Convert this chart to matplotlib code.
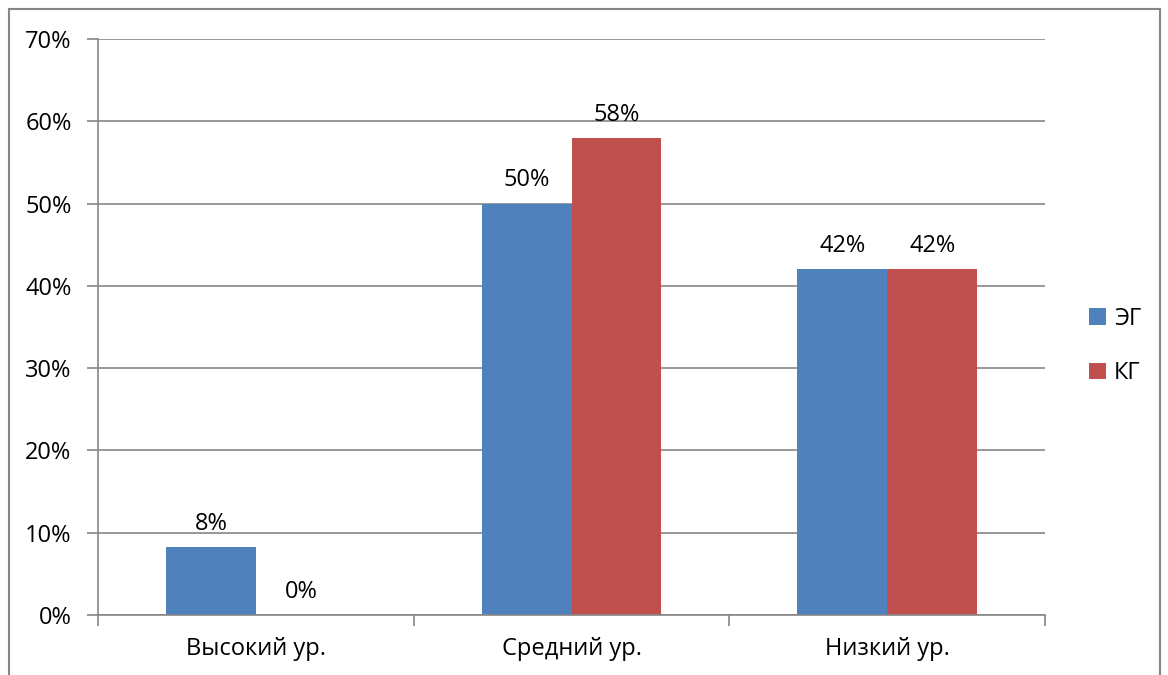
import numpy as np
import matplotlib.pyplot as plt
from matplotlib.patches import Rectangle

plt.rcParams['font.family'] = ['Open Sans', 'DejaVu Sans']

categories = ['Высокий ур.', 'Средний ур.', 'Низкий ур.']
series_names = ['ЭГ', 'КГ']
eg_values = [0.083, 0.50, 0.42]
kg_values = [0.0, 0.58, 0.42]
eg_labels = ['8%', '50%', '42%']
kg_labels = ['0%', '58%', '42%']
yticks = [0, 0.1, 0.2, 0.3, 0.4, 0.5, 0.6, 0.7]

blue = '#4f81bd'
red = '#c0504d'
grid_col = '#868686'
fs = 17

fig = plt.figure(figsize=(11.68, 6.75), dpi=100)
ax = fig.add_axes([98 / 1168, 1 - 615 / 675, (1045 - 98) / 1168, (615 - 39) / 675])

x = np.arange(len(categories))
w = 0.285
b1 = ax.bar(x - w / 2, eg_values, w, color=blue, label=series_names[0])
b2 = ax.bar(x + w / 2, kg_values, w, color=red, label=series_names[1])

# подписи значений над столбцами
for rects, labs in [(b1, eg_labels), (b2, kg_labels)]:
    for r, lab in zip(rects, labs):
        ax.annotate(lab, (r.get_x() + r.get_width() / 2, r.get_height()),
                    xytext=(0, 8), textcoords='offset points',
                    ha='center', va='bottom', fontsize=fs)

ax.set_xlim(-0.5, 2.5)
ax.set_ylim(0, 0.7)
ax.set_yticks(yticks)
ax.set_yticklabels([f'{int(round(t * 100))}%' for t in yticks], fontsize=fs)
ax.yaxis.grid(True, color=grid_col, linewidth=1.2)
ax.set_axisbelow(True)

ax.set_xticks([-0.5, 0.5, 1.5, 2.5])
ax.set_xticklabels([])
ax.set_xticks(x, minor=True)
ax.set_xticklabels(categories, minor=True, fontsize=fs)
ax.tick_params(axis='x', which='minor', length=0, pad=16)
ax.tick_params(axis='x', which='major', length=8, color=grid_col, width=1.2)
ax.tick_params(axis='y', length=8, color=grid_col, width=1.2, pad=11)

for s in ['top', 'right']:
    ax.spines[s].set_visible(False)
for s in ['left', 'bottom']:
    ax.spines[s].set_color(grid_col)
    ax.spines[s].set_linewidth(1.2)

ax.legend(loc='center left', bbox_to_anchor=(1068 / 1168, 1 - 346 / 675),
          bbox_transform=fig.transFigure, frameon=False, fontsize=fs,
          handlelength=0.7, handleheight=0.7, handletextpad=0.35,
          labelspacing=1.3)

fig.patches.append(Rectangle((9 / 1168, -0.01), (1160 - 9) / 1168, 1 - 9 / 675 + 0.01,
                             transform=fig.transFigure, fill=False,
                             edgecolor=grid_col, linewidth=1.5))

fig.savefig('out.png', dpi=100)
